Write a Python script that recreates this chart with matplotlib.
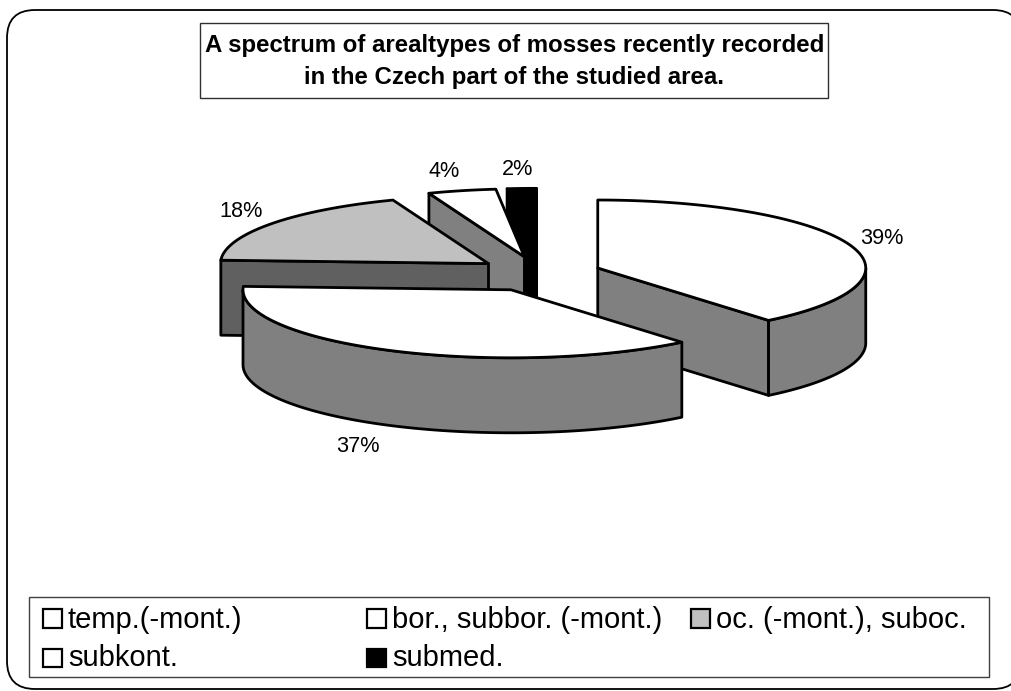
import numpy as np
import matplotlib
matplotlib.use("Agg")
import matplotlib.pyplot as plt
from matplotlib.patches import Polygon, Rectangle, FancyBboxPatch

plt.rcParams['font.family'] = ['Liberation Sans', 'DejaVu Sans']

# ---- data ----
title_lines = ["A spectrum of arealtypes of mosses recently recorded",
               "in the Czech part of the studied area."]
categories = ["temp.(-mont.)", "bor., subbor. (-mont.)", "oc. (-mont.), suboc.",
              "subkont.", "submed."]
values = [39.0, 36.8, 18.4, 4.1, 1.7]
pct_labels = ["39%", "37%", "18%", "4%", "2%"]
top_colors = ["#ffffff", "#ffffff", "#c0c0c0", "#ffffff", "#000000"]
side_colors = ["#808080", "#808080", "#606060", "#808080", "#000000"]

# ---- pie geometry (pixels) ----
CX, CY = 539.0, 274.0
RX, RY = 268.0, 68.0
DEPTH = 75.0
EXPLODE_X, EXPLODE_Y = 0.233, 0.26
LW = 2.0
draw_order = [4, 3, 2, 0, 1]
label_pos = [(882, 244), (358, 452), (241, 217), (444, 177), (518, 175)]

fig = plt.figure(figsize=(10.11, 6.91), dpi=100, facecolor="white")
ax = fig.add_axes([0, 0, 1, 1])
ax.set_xlim(0, 1011)
ax.set_ylim(691, 0)
ax.axis("off")

# outer rounded frame
ax.add_patch(FancyBboxPatch((7 + 28, 10 + 28), 1021 - 7 - 56, 689 - 10 - 56,
                            boxstyle="round,pad=28,rounding_size=28",
                            fc="white", ec="black", lw=1.3, zorder=0))

fractions = np.array(values) / np.sum(values)
edges = np.concatenate([[0], np.cumsum(fractions)]) * 360.0


def rim(ox, oy, a0, a1, n=80):
    t = np.radians(np.linspace(a0, a1, n))
    return np.column_stack([ox + RX * np.sin(t), oy - RY * np.cos(t)])


def face(pts, color, z):
    ax.add_patch(Polygon(pts, closed=True, fc=color, ec="black", lw=LW,
                         joinstyle="round", zorder=z))


z = 2
for i in draw_order:
    a0, a1 = edges[i], edges[i + 1]
    mid = np.radians((a0 + a1) / 2)
    ox = CX + EXPLODE_X * RX * np.sin(mid)
    oy = CY - EXPLODE_Y * RY * np.cos(mid)
    apex = np.array([ox, oy])
    down = np.array([0, DEPTH])
    # radial cut faces turned towards the viewer
    if np.sin(np.radians(a0)) < 0:
        p = rim(ox, oy, a0, a0, 1)[0]
        face([apex, p, p + down, apex + down], side_colors[i], z); z += 1
    if np.sin(np.radians(a1)) > 0:
        p = rim(ox, oy, a1, a1, 1)[0]
        face([apex, p, p + down, apex + down], side_colors[i], z); z += 1
    # outer wall, front half only
    w0, w1 = max(a0, 90), min(a1, 270)
    if w1 > w0:
        r = rim(ox, oy, w0, w1)
        face(np.vstack([r, r[::-1] + down]), side_colors[i], z); z += 1
    # top
    face(np.vstack([apex, rim(ox, oy, a0, a1)]), top_colors[i], z); z += 1

for (x, y), s in zip(label_pos, pct_labels):
    ax.text(x, y, s, fontsize=15.6, ha="center", va="baseline", zorder=50)

# title box
ax.add_patch(Rectangle((200, 23), 628, 75, fc="white", ec="#303030", lw=1.0, zorder=60))
for y, s in zip((52, 83.5), title_lines):
    ax.text(514.5, y, s, fontsize=17.3, fontweight="bold", ha="center", va="baseline", zorder=61)

# legend box
ax.add_patch(Rectangle((29, 597), 960, 80, fc="white", ec="#404040", lw=1.0, zorder=60))
col_x = [43, 367, 691]
row_y = [618, 657.5]
text_base = [627.5, 666.5]
slots = [(0, 0), (1, 0), (2, 0), (0, 1), (1, 1)]
for (c, r), name, col in zip(slots, categories, top_colors):
    ax.add_patch(Rectangle((col_x[c], row_y[r] - 9), 18.5, 18.5, fc=col, ec="black", lw=1.6, zorder=61))
    ax.text(col_x[c] + 25, text_base[r], name, fontsize=21, ha="left", va="baseline", zorder=61)

fig.savefig("out.png", dpi=100)
